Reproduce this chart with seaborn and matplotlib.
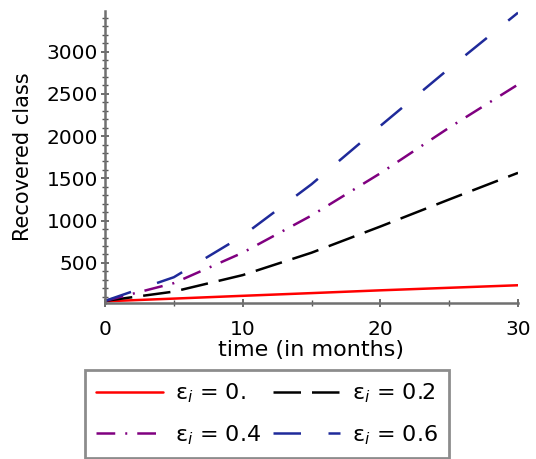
import seaborn as sns
import matplotlib.pyplot as plt
from matplotlib.ticker import MultipleLocator

# time (months) and recovered class for each epsilon_i value
time = [0, 5, 10, 15, 20, 25, 30]
rec_eps0 = [45, 77, 110, 142, 175, 205, 235]
rec_eps02 = [50, 160, 355, 620, 930, 1250, 1565]
rec_eps04 = [50, 260, 620, 1060, 1560, 2100, 2610]
rec_eps06 = [50, 330, 820, 1430, 2120, 2800, 3460]

labels = [r'ε$_i$ = 0.', r'ε$_i$ = 0.2', r'ε$_i$ = 0.4', r'ε$_i$ = 0.6']
colors = ['#ff0000', '#000000', '#800080', '#1f2a9a']

sns.set_style('white')
plt.rcParams['font.family'] = ['DejaVu Sans']
plt.rcParams['text.color'] = 'black'
plt.rcParams['xtick.labelcolor'] = 'black'
plt.rcParams['ytick.labelcolor'] = 'black'
plt.rcParams['axes.labelcolor'] = 'black'

fig = plt.figure(figsize=(5.36, 4.59), dpi=100)
ax = fig.add_axes([105 / 536, 1 - 303 / 459, 413 / 536, 292 / 459])

series = [rec_eps0, rec_eps02, rec_eps04, rec_eps06]
dashes = [None, (11, 4.4), (7.5, 4, 0.8, 4), (11, 11)]
for vals, lab, col, d in zip(series, labels, colors, dashes):
    sns.lineplot(x=time, y=vals, color=col, lw=1.8, label=lab, ax=ax)
    if d is not None:
        ax.lines[-1].set_dashes(d)

ax.set_xlim(0, 30)
ax.set_ylim(25, 3480)
ax.set_yticks([500, 1000, 1500, 2000, 2500, 3000])
ax.yaxis.set_minor_locator(MultipleLocator(100))
ax.set_xticks([0, 10, 20, 30])
ax.xaxis.set_minor_locator(MultipleLocator(5))

for s in ['top', 'right']:
    ax.spines[s].set_visible(False)
for s in ['left', 'bottom']:
    ax.spines[s].set_color('#707070')
    ax.spines[s].set_linewidth(1.8)

ax.tick_params(axis='both', which='both', color='#555555', labelsize=14.5,
               direction='inout', left=True, bottom=True)
ax.tick_params(which='major', length=6, width=1.2)
ax.tick_params(which='minor', length=4, width=1)
ax.tick_params(axis='x', pad=9)
ax.tick_params(axis='y', pad=2)

ax.set_xlabel('time (in months)', fontsize=16, labelpad=1)
ax.set_ylabel('Recovered class', fontsize=15, labelpad=10)

ax.get_legend().remove()
handles, labs = ax.get_legend_handles_labels()
order = [0, 2, 1, 3]
leg = fig.legend([handles[i] for i in order], [labs[i] for i in order],
                 loc='center', bbox_to_anchor=(0.498, 0.098),
                 ncol=2, fontsize=16, frameon=True, fancybox=False,
                 handlelength=3.0, columnspacing=0.55, handletextpad=0.55,
                 borderpad=0.5, labelspacing=0.8, borderaxespad=0)
leg.get_frame().set_edgecolor('#707070')
leg.get_frame().set_linewidth(2)

fig.savefig('out.png', dpi=100)
